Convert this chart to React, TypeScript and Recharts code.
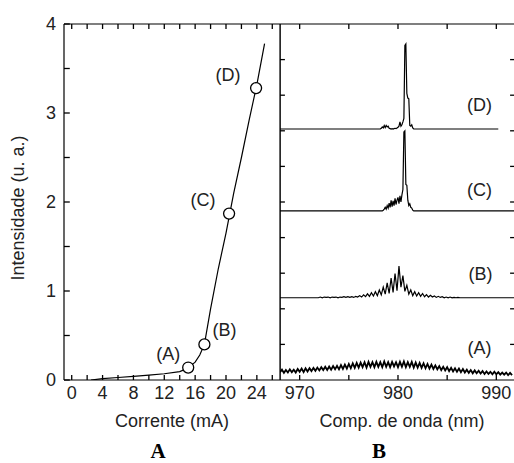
import React from "react";
import { ComposedChart, Line, Scatter, XAxis, YAxis, ReferenceLine } from "recharts";

const FONT = "'Liberation Sans', Arial, Helvetica, sans-serif";
const TEXT = "#222";
const INK = "#000";

// ---- panel A: light output vs drive current ----
const currentMa = [2.5, 4, 6, 8, 10, 12, 14, 15, 16, 16.6, 17.2, 18, 19, 20, 21, 22, 23, 24, 25];
const outputPower = [0, 0.015, 0.028, 0.04, 0.055, 0.07, 0.095, 0.13, 0.2, 0.28, 0.4, 0.8, 1.25, 1.65, 2.1, 2.5, 2.92, 3.32, 3.78];

// operating points where the spectra were recorded
const pointTags = ["(A)", "(B)", "(C)", "(D)"];
const pointCurrent = [15.1, 17.2, 20.4, 23.9];
const pointPower = [0.14, 0.4, 1.87, 3.28];

const currentTicks = [0, 2, 4, 6, 8, 10, 12, 14, 16, 18, 20, 22, 24, 26];
const powerTicks = [0, 0.5, 1, 1.5, 2, 2.5, 3, 3.5, 4];

// ---- panel B: spectra, stacked with vertical offsets ----
const wlTicks = [970, 975, 980, 985, 990];
const stackTicks = [1, 2, 3, 4, 5, 6, 7, 8, 9];

// (A) below threshold, sampled every 0.2 nm from 968.0 nm
const specAStart = 968;
const specAStep = 0.2;
const specA = [
  0.22, 0.29, 0.2, 0.28, 0.21, 0.3, 0.22, 0.29, 0.21, 0.31,
  0.23, 0.32, 0.22, 0.33, 0.24, 0.33, 0.25, 0.34, 0.26, 0.35,
  0.27, 0.36, 0.28, 0.37, 0.28, 0.38, 0.29, 0.39, 0.3, 0.4,
  0.3, 0.42, 0.31, 0.43, 0.32, 0.45, 0.33, 0.47, 0.34, 0.48,
  0.35, 0.49, 0.36, 0.5, 0.35, 0.51, 0.37, 0.5, 0.36, 0.51,
  0.37, 0.5, 0.36, 0.52, 0.37, 0.5, 0.36, 0.51, 0.38, 0.5,
  0.36, 0.51, 0.37, 0.52, 0.36, 0.5, 0.37, 0.51, 0.35, 0.49,
  0.35, 0.48, 0.34, 0.47, 0.33, 0.45, 0.32, 0.43, 0.31, 0.41,
  0.3, 0.39, 0.28, 0.37, 0.27, 0.36, 0.25, 0.34, 0.24, 0.33,
  0.23, 0.32, 0.22, 0.31, 0.21, 0.29, 0.2, 0.28, 0.19, 0.27,
  0.19, 0.26, 0.18, 0.25, 0.17, 0.24, 0.17, 0.23, 0.16, 0.23,
  0.16, 0.22, 0.15, 0.21, 0.15, 0.21, 0.14, 0.2, 0.14,
];

// (B) near threshold, 0.2 nm steps from 971.9 nm
const specBStart = 971.9;
const specBStep = 0.2;
const specB = [
  0, 0.02, 0, 0.02, 0.01, 0.02, 0, 0.02, 0.01, 0.02,
  0, 0.02, 0.01, 0.03, 0.01, 0.03, 0.01, 0.03, 0.01, 0.04,
  0.02, 0.06, 0.02, 0.08, 0.03, 0.11, 0.04, 0.14, 0.05, 0.17,
  0.06, 0.22, 0.08, 0.3, 0.1, 0.42, 0.12, 0.55, 0.15, 0.68,
  0.2, 0.89, 0.3, 0.62, 0.18, 0.35, 0.1, 0.22, 0.06, 0.17,
  0.05, 0.14, 0.04, 0.12, 0.03, 0.09, 0.02, 0.07, 0.02, 0.05,
  0.01, 0.04, 0.01, 0.03, 0, 0.02, 0, 0.02, 0, 0.01,
  0, 0.01, 0,
];

// (C) above threshold, 0.1 nm steps from 978.4 nm
const specCStart = 978.4;
const specCStep = 0.1;
const specC = [
  0, 0.02, 0.05, 0.1, 0.05, 0.15, 0.08, 0.22, 0.1, 0.3,
  0.12, 0.28, 0.15, 0.35, 0.18, 0.3, 0.38, 0.2, 0.42, 0.25,
  0.45, 0.6, 2.22, 2.25, 0.74, 0.72, 0.3, 0.15, 0.2, 0.1,
  0.08, 0.02, 0,
];

// (D) highest current, 0.1 nm steps from 978.0 nm
const specDStart = 978;
const specDStep = 0.1;
const specD = [
  0, 0, 0, 0.02, 0.06, 0.03, 0.1, 0.04, 0.1, 0.06,
  0.08, 0.02, 0.01, 0, 0.01, 0, 0.01, 0.02, 0.01, 0.03,
  0.05, 0.08, 0.2, 0.08, 0.12, 0.2, 0.3, 2.35, 2.39, 1.0,
  0.87, 0.85, 0.1, 0.08, 0.12, 0.03, 0,
];

// vertical offset of each trace and where its flat baseline ends
const traceOffset = [0, 2.31, 4.75, 7.05];
const traceEnd = [991.9, 991.9, 991.9, 990.2];
const traceTagWl = [988.3, 988.4, 988.3, 988.3];
const traceTagLevel = [0.9, 2.98, 5.34, 7.72];

const WL_DOMAIN: [number, number] = [968, 991.9];
const STACK_DOMAIN: [number, number] = [0, 10];
const CURRENT_DOMAIN: [number, number] = [-1, 27];
const POWER_DOMAIN: [number, number] = [0, 4];

// inward tick lengths expressed in axis units (~5-6 px)
const A_TICK_X = 0.75;
const A_TICK_Y = 0.056;
const B_TICK_X = 0.5;
const B_TICK_Y = 0.14;

type Pt = { wl: number; v: number };

function buildTrace(start: number, step: number, vals: number[], offset: number, end: number): Pt[] {
  const pts: Pt[] = vals.map((v, i) => ({ wl: +(start + i * step).toFixed(2), v: v + offset }));
  pts.unshift({ wl: WL_DOMAIN[0], v: offset });
  pts.push({ wl: end, v: offset });
  return pts;
}

const traceA: Pt[] = specA.map((v, i) => ({ wl: +(specAStart + i * specAStep).toFixed(2), v }));
const traceB = buildTrace(specBStart, specBStep, specB, traceOffset[1], traceEnd[1]);
const traceC = buildTrace(specCStart, specCStep, specC, traceOffset[2], traceEnd[2]);
const traceD = buildTrace(specDStart, specDStep, specD, traceOffset[3], traceEnd[3]);

const liCurve = currentMa.map((c, i) => ({ current: c, power: outputPower[i] }));
const liPoints = pointTags.map((tag, i) => ({ tag, current: pointCurrent[i], power: pointPower[i] }));
const traceTags = pointTags.map((tag, i) => ({ tag, wl: traceTagWl[i], v: traceTagLevel[i] }));

// label placement next to each operating-point marker (px)
const tagNudge: Record<string, [number, number]> = {
  "(A)": [-20, -14],
  "(B)": [20, -14],
  "(C)": [-26, -14],
  "(D)": [-28, -13],
};

const axisLine = { stroke: INK, strokeWidth: 1.2 };

function frameTick(key: string, x1: number, y1: number, x2: number, y2: number) {
  return (
    <ReferenceLine
      key={key}
      xAxisId="b"
      yAxisId="l"
      segment={[
        { x: x1, y: y1 },
        { x: x2, y: y2 },
      ]}
      stroke={INK}
      strokeWidth={1.3}
      ifOverflow="visible"
    />
  );
}

function bottomLabel(fmt: (v: number) => string) {
  return (p: any) => (
    <text x={p.x} y={p.y} dy="0.71em" textAnchor="middle" fontSize={18} fontFamily={FONT} fill={TEXT}>
      {fmt(p.payload.value)}
    </text>
  );
}

function leftLabel(fmt: (v: number) => string) {
  return (p: any) => (
    <text x={p.x} y={p.y} dy="0.36em" textAnchor="end" fontSize={18} fontFamily={FONT} fill={TEXT}>
      {fmt(p.payload.value)}
    </text>
  );
}

const PointMarker = (p: any) => {
  const [dx, dy] = tagNudge[p.payload.tag] || [0, 0];
  return (
    <g>
      <circle cx={p.cx} cy={p.cy} r={5.5} fill="#fff" stroke={INK} strokeWidth={1.3} />
      <text x={p.cx + dx} y={p.cy + dy} textAnchor="middle" dominantBaseline="central" fontSize={18} fontFamily={FONT} fill={TEXT}>
        {p.payload.tag}
      </text>
    </g>
  );
};

const TraceTag = (p: any) => (
  <text x={p.cx} y={p.cy} textAnchor="middle" dominantBaseline="central" fontSize={18} fontFamily={FONT} fill={TEXT}>
    {p.payload.tag}
  </text>
);

function CurrentPanel() {
  const [x0] = CURRENT_DOMAIN;
  const [y0, y1] = POWER_DOMAIN;
  return (
    <ComposedChart width={290} height={463} margin={{ top: -6, right: 0, bottom: 63, left: 0 }}>
      <XAxis
        xAxisId="b"
        type="number"
        dataKey="current"
        domain={CURRENT_DOMAIN}
        allowDataOverflow
        ticks={currentTicks}
        interval={0}
        height={20}
        tickSize={1}
        tickMargin={5}
        axisLine={axisLine}
        tickLine={false}
        tick={bottomLabel((v) => (v % 4 === 0 && v <= 24 ? String(v) : ""))}
      />
      <XAxis xAxisId="t" orientation="top" type="number" domain={CURRENT_DOMAIN} allowDataOverflow height={30} axisLine={axisLine} tickLine={false} tick={false} />
      <YAxis
        yAxisId="l"
        type="number"
        domain={POWER_DOMAIN}
        allowDataOverflow
        ticks={powerTicks}
        interval={0}
        width={64}
        tickSize={1}
        tickMargin={7}
        axisLine={axisLine}
        tickLine={false}
        tick={leftLabel((v) => (Number.isInteger(v) ? String(v) : ""))}
      />
      <YAxis yAxisId="r" orientation="right" type="number" domain={POWER_DOMAIN} allowDataOverflow width={10} axisLine={axisLine} tickLine={false} tick={false} />
      {currentTicks.map((c) => frameTick(`bt${c}`, c, y0, c, y0 + A_TICK_Y))}
      {currentTicks.map((c) => frameTick(`tp${c}`, c, y1, c, y1 - A_TICK_Y))}
      {powerTicks.map((p) => frameTick(`lf${p}`, x0, p, x0 + A_TICK_X, p))}
      <Line
        xAxisId="b"
        yAxisId="l"
        data={liCurve}
        dataKey="power"
        type="linear"
        stroke={INK}
        strokeWidth={1.2}
        dot={false}
        isAnimationActive={false}
      />
      <Scatter xAxisId="b" yAxisId="l" data={liPoints} dataKey="power" shape={PointMarker} isAnimationActive={false} />
    </ComposedChart>
  );
}

function SpectrumPanel() {
  const traces = [traceA, traceB, traceC, traceD];
  const [x0, x1] = WL_DOMAIN;
  const [y0, y1] = STACK_DOMAIN;
  return (
    <ComposedChart width={235} height={463} margin={{ top: -6, right: -60, bottom: 63, left: -60 }}>
      <XAxis
        xAxisId="b"
        type="number"
        dataKey="wl"
        domain={WL_DOMAIN}
        allowDataOverflow
        ticks={wlTicks}
        interval={0}
        height={20}
        tickSize={1}
        tickMargin={5}
        axisLine={axisLine}
        tickLine={false}
        tick={bottomLabel((v) => (v % 10 === 0 ? String(v) : ""))}
      />
      <XAxis xAxisId="t" orientation="top" type="number" domain={WL_DOMAIN} allowDataOverflow height={30} axisLine={axisLine} tickLine={false} tick={false} />
      <YAxis yAxisId="l" type="number" domain={STACK_DOMAIN} allowDataOverflow width={60} axisLine={axisLine} tickLine={false} tick={false} />
      <YAxis yAxisId="r" orientation="right" type="number" domain={STACK_DOMAIN} allowDataOverflow width={60} axisLine={axisLine} tickLine={false} tick={false} />
      {wlTicks.map((w) => frameTick(`bt${w}`, w, y0, w, y0 + B_TICK_Y))}
      {wlTicks.map((w) => frameTick(`tp${w}`, w, y1, w, y1 - B_TICK_Y))}
      {stackTicks.map((s) => frameTick(`lf${s}`, x0, s, x0 + B_TICK_X, s))}
      {stackTicks.map((s) => frameTick(`rt${s}`, x1, s, x1 - B_TICK_X, s))}
      {traces.map((t, i) => (
        <Line
          key={i}
          xAxisId="b"
          yAxisId="l"
          data={t}
          dataKey="v"
          type="linear"
          stroke={INK}
          strokeWidth={i === 0 ? 1.8 : 1.2}
          dot={false}
          isAnimationActive={false}
        />
      ))}
      <Scatter xAxisId="b" yAxisId="l" data={traceTags} dataKey="v" shape={TraceTag} isAnimationActive={false} />
    </ComposedChart>
  );
}

const titleStyle: React.CSSProperties = {
  position: "absolute",
  transform: "translate(-50%, -50%)",
  whiteSpace: "nowrap",
  fontFamily: FONT,
  fontSize: 18,
  color: TEXT,
  lineHeight: 1,
};

const panelTag: React.CSSProperties = {
  position: "absolute",
  transform: "translate(-50%, -50%)",
  fontFamily: "'Liberation Serif', 'Times New Roman', serif",
  fontWeight: "bold",
  fontSize: 21,
  color: "#000",
  lineHeight: 1,
};

export default function App() {
  return (
    <div style={{ position: "absolute", left: 0, top: 0, width: 514, height: 463, overflow: "hidden", background: "#fff" }}>
      <div style={{ position: "absolute", left: 0, top: 0 }}>
        <CurrentPanel />
      </div>
      <div style={{ position: "absolute", left: 280, top: 0 }}>
        <SpectrumPanel />
      </div>
      <div style={{ ...titleStyle, left: 18, top: 208, transform: "translate(-50%, -50%) rotate(-90deg)" }}>Intensidade (u. a.)</div>
      <div style={{ ...titleStyle, left: 172, top: 421 }}>Corrente (mA)</div>
      <div style={{ ...titleStyle, left: 402, top: 421 }}>Comp. de onda (nm)</div>
      <div style={{ ...panelTag, left: 158, top: 451 }}>A</div>
      <div style={{ ...panelTag, left: 379, top: 451 }}>B</div>
    </div>
  );
}
